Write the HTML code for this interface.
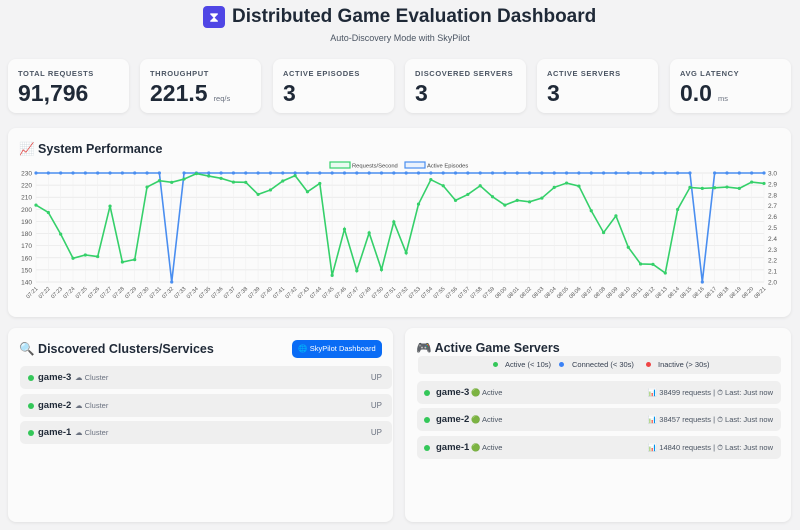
<!DOCTYPE html>
<html><head><meta charset="utf-8">
<style>
*{box-sizing:border-box;margin:0;padding:0}
body{width:800px;height:530px;background:#f3f3f4;font-family:"Liberation Sans",sans-serif;color:#1f2937;position:relative;overflow:hidden}
.abs{position:absolute}
.card{position:absolute;background:#fbfbfb;border-radius:8px;box-shadow:0 1px 3px rgba(0,0,0,0.08)}
.slabel{position:absolute;left:10px;top:10px;font-size:7.5px;font-weight:bold;letter-spacing:0.6px;color:#4b5563}
.sval{position:absolute;left:10px;top:21px;font-size:23px;font-weight:bold;color:#1f2937}
.sval small{font-size:7.5px;font-weight:normal;color:#6b7280;margin-left:6px}
.row{position:absolute;background:#efefef;border-radius:5px;height:23px;font-size:9px}
.dot{position:absolute;width:6px;height:6px;border-radius:3px;background:#34c759;top:8.5px}
.nm{position:absolute;top:6px;font-weight:bold;font-size:9.5px}
.sub{position:absolute;top:7px;font-size:7.5px;color:#6b7280}
</style></head><body>
<div class="abs" style="left:203px;top:6px;width:22px;height:22px;background:#4f46e5;border-radius:4px;color:#fff;font-size:14px;text-align:center;line-height:22px">⧗</div>
<div class="abs" style="left:232px;top:6px;font-size:19px;font-weight:bold;color:#1f2937">Distributed Game Evaluation Dashboard</div>
<div class="abs" style="left:0;width:800px;text-align:center;top:33px;font-size:9px;color:#4b5563">Auto-Discovery Mode with SkyPilot</div>

<div class="card" style="left:8px;top:59px;width:121px;height:54px"><div class="slabel">TOTAL REQUESTS</div><div class="sval">91,796</div></div>
<div class="card" style="left:140px;top:59px;width:121px;height:54px"><div class="slabel">THROUGHPUT</div><div class="sval">221.5<small>req/s</small></div></div>
<div class="card" style="left:273px;top:59px;width:121px;height:54px"><div class="slabel">ACTIVE EPISODES</div><div class="sval">3</div></div>
<div class="card" style="left:405px;top:59px;width:121px;height:54px"><div class="slabel">DISCOVERED SERVERS</div><div class="sval">3</div></div>
<div class="card" style="left:537px;top:59px;width:121px;height:54px"><div class="slabel">ACTIVE SERVERS</div><div class="sval">3</div></div>
<div class="card" style="left:670px;top:59px;width:121px;height:54px"><div class="slabel">AVG LATENCY</div><div class="sval">0.0<small>ms</small></div></div>

<div class="card" style="left:8px;top:128px;width:783px;height:189px">
<div class="abs" style="left:11px;top:14px;font-size:12.5px;font-weight:bold">📈 System Performance</div>
</div>
<svg class="abs" id="chart" style="left:0;top:0" width="800" height="320"></svg>

<div class="card" style="left:8px;top:328px;width:385px;height:194px">
<div class="abs" style="left:11px;top:14px;font-size:12.5px;font-weight:bold">🔍 Discovered Clusters/Services</div>
<div class="abs" style="left:284px;top:12px;width:90px;height:18px;background:#0a6cf5;border-radius:5px;color:#fff;font-size:7.5px;text-align:center;line-height:18px">🌐 SkyPilot Dashboard</div>
<div class="row" style="left:12px;top:38px;width:372px"><div class="dot" style="left:8px"></div><div class="nm" style="left:18px">game-3</div><div class="sub" style="left:55px">☁ Cluster</div><div class="sub" style="right:10px;font-size:8px">UP</div></div>
<div class="row" style="left:12px;top:66px;width:372px"><div class="dot" style="left:8px"></div><div class="nm" style="left:18px">game-2</div><div class="sub" style="left:55px">☁ Cluster</div><div class="sub" style="right:10px;font-size:8px">UP</div></div>
<div class="row" style="left:12px;top:93px;width:372px"><div class="dot" style="left:8px"></div><div class="nm" style="left:18px">game-1</div><div class="sub" style="left:55px">☁ Cluster</div><div class="sub" style="right:10px;font-size:8px">UP</div></div>
</div>

<div class="card" style="left:405px;top:328px;width:386px;height:194px">
<div class="abs" style="left:11px;top:13px;font-size:12.5px;font-weight:bold">🎮 Active Game Servers</div>
<div class="abs" style="left:13px;top:28px;width:363px;height:18px;background:#efefef;border-radius:4px;font-size:7.5px;color:#374151">
<span class="abs" style="left:75px;top:6px;width:5px;height:5px;border-radius:3px;background:#34c759"></span><span class="abs" style="left:87px;top:4px">Active (&lt; 10s)</span>
<span class="abs" style="left:141px;top:6px;width:5px;height:5px;border-radius:3px;background:#3b82f6"></span><span class="abs" style="left:154px;top:4px">Connected (&lt; 30s)</span>
<span class="abs" style="left:228px;top:6px;width:5px;height:5px;border-radius:3px;background:#ef4444"></span><span class="abs" style="left:240px;top:4px">Inactive (&gt; 30s)</span>
</div>
<div class="row" style="left:12px;top:53px;width:364px"><div class="dot" style="left:7px"></div><div class="nm" style="left:19px">game-3</div><div class="sub" style="left:54px;color:#4b5563">🟢 Active</div><div class="sub" style="right:8px;color:#4b5563">📊 38499 requests | ⏱ Last: Just now</div></div>
<div class="row" style="left:12px;top:80px;width:364px"><div class="dot" style="left:7px"></div><div class="nm" style="left:19px">game-2</div><div class="sub" style="left:54px;color:#4b5563">🟢 Active</div><div class="sub" style="right:8px;color:#4b5563">📊 38457 requests | ⏱ Last: Just now</div></div>
<div class="row" style="left:12px;top:108px;width:364px"><div class="dot" style="left:7px"></div><div class="nm" style="left:19px">game-1</div><div class="sub" style="left:54px;color:#4b5563">🟢 Active</div><div class="sub" style="right:8px;color:#4b5563">📊 14840 requests | ⏱ Last: Just now</div></div>
</div>

<script>
const labels=["07:21","07:22","07:23","07:24","07:25","07:26","07:27","07:28","07:29","07:30","07:31","07:32","07:33","07:34","07:35","07:36","07:37","07:38","07:39","07:40","07:41","07:42","07:43","07:44","07:45","07:46","07:47","07:49","07:50","07:51","07:52","07:53","07:54","07:55","07:56","07:57","07:58","07:59","08:00","08:01","08:02","08:03","08:04","08:05","08:06","08:07","08:08","08:09","08:10","08:11","08:12","08:13","08:14","08:15","08:16","08:17","08:18","08:19","08:20","08:21"];
const requestsPerSecond=[203.5,197.4,179.5,159.6,162.3,161,202.7,156.5,158.5,218.4,223.6,222.3,225,229.5,227.5,225.6,222.5,222.3,212.3,216,223.4,227.8,214.5,221.4,145.5,183.6,149.3,180.6,150.2,189.7,164,204.3,224.5,219.5,207.4,212.3,219.5,210.4,203.5,207.4,206.2,209.3,218.1,221.7,219.2,198.8,180.8,194.6,168.7,154.9,154.6,147.4,199.9,218.1,217.3,217.8,218.4,217.3,222.5,221.4];
const activeEpisodes=[3,3,3,3,3,3,3,3,3,3,3,2,3,3,3,3,3,3,3,3,3,3,3,3,3,3,3,3,3,3,3,3,3,3,3,3,3,3,3,3,3,3,3,3,3,3,3,3,3,3,3,3,3,3,2,3,3,3,3,3];
const leftTicks=[140,150,160,170,180,190,200,210,220,230];
const rightTicks=[2.0,2.1,2.2,2.3,2.4,2.5,2.6,2.7,2.8,2.9,3.0];

const NS="http://www.w3.org/2000/svg";
const svg=document.getElementById('chart');
const X0=36,X1=764,Y0=282,Y1=173;
const xs=i=>X0+(X1-X0)*i/(labels.length-1);
const yL=v=>Y0-(v-140)/(230-140)*(Y0-Y1);
const yR=v=>Y0-(v-2)/(3-2)*(Y0-Y1);
function mk(tag,attrs){const e=document.createElementNS(NS,tag);for(const k in attrs)e.setAttribute(k,attrs[k]);svg.appendChild(e);return e;}

leftTicks.forEach(t=>{
 const g=mk('line',{x1:X0,x2:X1,y1:yL(t),y2:yL(t),stroke:'#e5e5e5','stroke-width':0.7});
 
 
 const tx=mk('text',{x:X0-4,y:yL(t)+2.5,'font-size':6.5,fill:'#555','text-anchor':'end','font-family':'Liberation Sans'});
 tx.textContent=t;
 
 
});
rightTicks.forEach(t=>{
 const tx=mk('text',{x:X1+4,y:yR(t)+2.5,'font-size':6.5,fill:'#555','font-family':'Liberation Sans'});
 tx.textContent=t.toFixed(1);
 
 
});
labels.forEach((l,i)=>{
 const x=xs(i);
 const vg=mk('line',{x1:x,x2:x,y1:Y1,y2:Y0,stroke:'#f0f0f0','stroke-width':0.6});
 
 
 const tx=mk('text',{x:x+2,y:Y0+7,'font-size':5.5,fill:'#555','text-anchor':'end','font-family':'Liberation Sans',transform:`rotate(-45 ${x+2} ${Y0+7})`});
 tx.textContent=l;
 
 
});
function series(vals,yf,color,name){
 const p=mk('polyline',{points:vals.map((v,i)=>xs(i)+','+yf(v)).join(' '),fill:'none',stroke:color,'stroke-width':1.6});
 
 
 vals.forEach((v,i)=>{
  const c=mk('circle',{cx:xs(i),cy:yf(v),r:1.6,fill:color});
  
  
 });
}
series(activeEpisodes,yR,'#4a8ef0','active-episodes');
series(requestsPerSecond,yL,'#35d06a','requests-per-second');

const lg1=mk('rect',{x:330,y:162,width:20,height:6,fill:'#eafaf0',stroke:'#35d06a','stroke-width':1.2});


const lt1=mk('text',{x:352,y:167.5,'font-size':5.8,fill:'#444','font-family':'Liberation Sans'});
lt1.textContent='Requests/Second';


const lg2=mk('rect',{x:405,y:162,width:20,height:6,fill:'#eaf2fd',stroke:'#4a8ef0','stroke-width':1.2});


const lt2=mk('text',{x:427,y:167.5,'font-size':5.8,fill:'#444','font-family':'Liberation Sans'});
lt2.textContent='Active Episodes';


</script>
</body></html>
